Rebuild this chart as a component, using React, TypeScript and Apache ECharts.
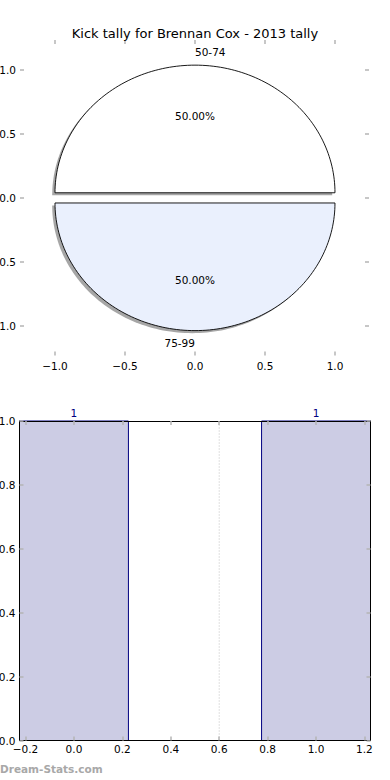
import { useEffect, useRef } from "react";
import * as echarts from "echarts";

const TITLE = "Kick tally for Brennan Cox - 2013 tally";
const PIE_LABELS = ["50-74", "75-99"];
const PIE_VALUES = [1, 1];
const PIE_COLORS = ["#ffffff", "#eaf0fd"];
const PIE_TICKS = [-1, -0.5, 0, 0.5, 1];
const BAR_X = [0, 1];
const BAR_VALUES = [1, 1];
const BAR_X_TICKS = [-0.2, 0, 0.2, 0.4, 0.6, 0.8, 1.0, 1.2];
const BAR_Y_TICKS = [0, 0.2, 0.4, 0.6, 0.8, 1.0];
const MARKER_X = 0.6;
const WATERMARK = "Dream-Stats.com";

const EXPLODE = 0.04;
const SHADOW = 0.02;
const BAR_WIDTH = 0.45;
const FONT = "DejaVu Sans";
const TICK_COLOR = "#b4b4b4";
const FS = 10.5;

const fmt = (v: number) => v.toFixed(1).replace("-", "\u2212");

export default function App() {
  const ref = useRef<HTMLDivElement>(null);
  useEffect(() => {
    if (!ref.current) return;
    const chart = echarts.init(ref.current, undefined, { renderer: "svg" });
    const total = PIE_VALUES.reduce((a, b) => a + b, 0);

    const ticks = (vals: number[]) => ({
      show: true, inside: true, length: 4, customValues: vals, lineStyle: { color: TICK_COLOR, width: 1.5 },
    });
    const labels = (vals: number[], margin: number) => ({
      customValues: vals, formatter: (v: number) => fmt(v), margin, fontFamily: FONT, fontSize: FS, color: "#000",
    });

    const pieAxis = (gridIndex: number, position: string, min: number, max: number, showLabel: boolean, margin: number) => ({
      type: "value", gridIndex, position, min, max,
      axisLine: { show: false, onZero: false },
      splitLine: { show: false },
      axisTick: ticks(PIE_TICKS),
      axisLabel: showLabel ? labels(PIE_TICKS, margin) : { show: false, customValues: PIE_TICKS },
    });
    const barAxis = (position: string, min: number, max: number, vals: number[], showLabel: boolean, margin: number) => ({
      type: "value", gridIndex: 1, position, min, max, z: 5,
      axisLine: { show: true, onZero: false, lineStyle: { color: "#000", width: 1 } },
      splitLine: { show: false },
      axisTick: ticks(vals),
      axisLabel: showLabel ? labels(vals, margin) : { show: false, customValues: vals },
    });

    const option: any = {
      animation: false,
      title: {
        text: TITLE,
        left: "center",
        top: 22,
        textStyle: { fontFamily: FONT, fontSize: 13, fontWeight: "normal", color: "#000" },
      },
      grid: [
        { left: 20, top: 40, width: 349, height: 315.5, containLabel: false, outerBoundsMode: "none" },
        { left: 19.5, top: 421, width: 351, height: 319.5, containLabel: false, outerBoundsMode: "none" },
      ],
      xAxis: [
        pieAxis(0, "bottom", -1.25, 1.243, true, 5),
        pieAxis(0, "top", -1.25, 1.243, false, 0),
        barAxis("bottom", -0.225, 1.225, BAR_X_TICKS, true, 3),
        barAxis("top", -0.225, 1.225, BAR_X_TICKS, false, 0),
      ],
      yAxis: [
        pieAxis(0, "left", -1.235, 1.237, true, 4),
        pieAxis(0, "right", -1.235, 1.237, false, 0),
        barAxis("left", 0, 1, BAR_Y_TICKS, true, 4),
        barAxis("right", 0, 1, BAR_Y_TICKS, false, 0),
      ],
      graphic: [
        {
          type: "text",
          left: 0,
          top: 763,
          style: { text: WATERMARK, fill: "#a8a8a8", font: `bold 10.5px '${FONT}'` },
        },
      ],
      series: [
        {
          type: "custom",
          xAxisIndex: 0,
          yAxisIndex: 0,
          clip: false,
          data: PIE_VALUES.map((v, i) => [i, v]),
          encode: { x: 0, y: 1 },
          renderItem: (params: any, api: any) => {
            const i = params.dataIndex;
            const v = api.value(1);
            const before = PIE_VALUES.slice(0, i).reduce((a, b) => a + b, 0);
            const t1 = (2 * Math.PI * before) / total;
            const t2 = (2 * Math.PI * (before + v)) / total;
            const mid = (t1 + t2) / 2;
            const cx = EXPLODE * Math.cos(mid);
            const cy = EXPLODE * Math.sin(mid);
            const pts = (dx: number, dy: number) => {
              const arr: number[][] = [api.coord([cx + dx, cy + dy])];
              const N = 120;
              for (let k = 0; k <= N; k++) {
                const t = t1 + ((t2 - t1) * k) / N;
                arr.push(api.coord([cx + dx + Math.cos(t), cy + dy + Math.sin(t)]));
              }
              return arr;
            };
            const lx = cx + 1.1 * Math.cos(mid);
            const ly = cy + 1.1 * Math.sin(mid);
            const lp = api.coord([lx, ly]);
            const pp = api.coord([cx + 0.6 * Math.cos(mid), cy + 0.6 * Math.sin(mid)]);
            const pct = ((v / total) * 100).toFixed(2) + "%";
            return {
              type: "group",
              children: [
                { type: "polygon", shape: { points: pts(-SHADOW, -SHADOW) }, style: { fill: "rgba(77,77,77,0.5)", stroke: "none" } },
                { type: "polygon", shape: { points: pts(0, 0) }, style: { fill: PIE_COLORS[i], stroke: "#000", lineWidth: 0.9 } },
                {
                  type: "text", x: lp[0], y: lp[1],
                  style: { text: PIE_LABELS[i], align: lx > 0 ? "left" : "right", verticalAlign: "middle", fill: "#000", font: `${FS}px '${FONT}'` },
                },
                {
                  type: "text", x: pp[0], y: pp[1],
                  style: { text: pct, align: "center", verticalAlign: "middle", fill: "#000", font: `${FS}px '${FONT}'` },
                },
              ],
            };
          },
        },
        {
          type: "custom",
          xAxisIndex: 2,
          yAxisIndex: 2,
          clip: false,
          data: BAR_X.map((x, i) => [x, BAR_VALUES[i]]),
          encode: { x: 0, y: 1 },
          renderItem: (params: any, api: any) => {
            const x = api.value(0);
            const v = api.value(1);
            const p1 = api.coord([x - BAR_WIDTH / 2, v]);
            const p2 = api.coord([x + BAR_WIDTH / 2, 0]);
            return {
              type: "group",
              children: [
                {
                  type: "rect",
                  shape: { x: p1[0], y: p1[1], width: p2[0] - p1[0], height: p2[1] - p1[1] },
                  style: { fill: "#ccccE4", stroke: "#000080", lineWidth: 1 },
                },
                {
                  type: "text", x: (p1[0] + p2[0]) / 2, y: p1[1] - 3,
                  style: { text: String(v), align: "center", verticalAlign: "bottom", fill: "#000080", font: `${FS}px '${FONT}'` },
                },
              ],
            };
          },
        },
        {
          type: "line",
          xAxisIndex: 2,
          yAxisIndex: 2,
          symbol: "none",
          data: [[MARKER_X, 0], [MARKER_X, 1]],
          lineStyle: { color: "#c0c0c0", width: 1, type: [1, 2] },
          z: 3,
        },
      ],
    };
    chart.setOption(option);
    return () => chart.dispose();
  }, []);
  return <div ref={ref} style={{ position: "absolute", left: 0, top: 0, width: 390, height: 780 }} />;
}
